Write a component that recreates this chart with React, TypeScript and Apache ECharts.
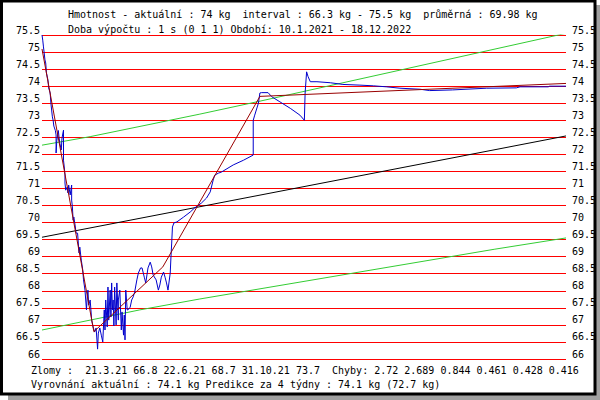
import React, { useEffect, useRef } from "react";
import * as echarts from "echarts";

// Days counted from 10.1.2021 (day 0) to 18.12.2022 (day 707)
const totalDays = 707;

// Measured weight (blue)
const blueDays = [
  0, 1, 2, 4, 5, 6, 8, 9, 11, 12, 13, 14, 15, 16, 18, 19, 19, 20, 22, 23, 24, 26, 27, 29, 29, 30, 31, 31, 32, 34,
  35, 36, 38, 40, 40, 41, 42, 43, 45, 46, 48, 49, 50, 51, 53, 55, 56, 58, 59, 60, 61, 62, 63, 65, 67, 69, 71, 73,
  75, 76, 78, 80, 82, 84, 85, 86, 88, 89, 90, 92, 93, 94, 95, 96, 97, 98, 100, 101, 103, 103, 105, 107, 108, 110,
  111, 112, 113, 115, 116, 119, 121, 123, 125, 128, 130, 133, 135, 138, 140, 143, 146, 148, 150, 154, 157, 159,
  161, 164, 166, 168, 170, 173, 174, 175, 176, 178, 182, 191, 200, 206, 215, 222, 227, 231, 233, 238, 242, 258,
  272, 285, 285, 287, 290, 292, 294, 296, 305, 310, 321, 335, 348, 354, 355, 357, 359, 362, 371, 389, 406, 429,
  447, 465, 483, 510, 523, 554, 600, 640, 645, 683, 685, 707,
];
const blueKg = [
  75.5, 75.35, 75.15, 74.77, 74.68, 74.39, 74.18, 73.95, 73.8, 73.5, 73.3, 73.1, 73.0, 72.83, 72.7, 72.57, 72.04,
  72.4, 72.7, 72.5, 72.33, 72.13, 72.48, 72.71, 71.83, 71.63, 71.4, 71.16, 70.95, 71.04, 70.87, 71.1, 70.81, 71.1,
  70.66, 70.46, 70.07, 70.16, 69.87, 69.69, 69.69, 69.4, 69.11, 69.28, 68.9, 68.61, 68.32, 68.02, 67.73, 67.44,
  67.82, 68.02, 67.58, 67.73, 67.14, 66.94, 66.79, 66.91, 66.29, 66.76, 66.91, 66.7, 66.5, 67.44, 66.85, 67.73,
  66.94, 68.11, 67.14, 68.02, 67.23, 68.23, 67.44, 67.73, 66.97, 68.11, 67.0, 68.23, 67.14, 67.73, 68.02, 66.85,
  67.38, 66.7, 67.29, 66.56, 68.02, 67.44, 67.44, 67.52, 67.73, 67.82, 67.96, 68.32, 68.52, 68.67, 68.67, 68.4,
  68.23, 68.67, 68.84, 68.7, 68.46, 68.32, 68.02, 68.17, 68.4, 68.55, 68.4, 68.23, 68.02, 68.52, 68.99, 69.4,
  69.87, 69.99, 70.02, 70.16, 70.31, 70.43, 70.57, 70.72, 70.9, 71.25, 71.39, 71.45, 71.48, 71.69, 71.83, 71.98,
  73.0, 73.15, 73.36, 73.5, 73.8, 73.81, 73.81, 73.69, 73.54, 73.35, 73.15, 73.0, 73.8, 74.42, 74.28, 74.13,
  74.13, 74.1, 74.05, 74.03, 74.01, 73.98, 73.94, 73.91, 73.87, 73.89, 73.94, 73.95, 73.98, 73.98, 74.0, 74.0,
];

// Piecewise fit (dark red): breaks 21.3.21, 22.6.21, 31.10.21
const fitDays = [0, 70, 163, 294, 707];
const fitKg = [75.09, 66.8, 68.7, 73.7, 74.08];

// Linear trend (black)
const trendDays = [0, 707];
const trendKg = [69.57, 72.54];

// Band (green)
const upperDays = [0, 65, 213, 294, 483, 707];
const upperKg = [72.27, 72.52, 73.18, 73.56, 74.47, 75.55];
const lowerDays = [0, 132, 213, 611, 707];
const lowerKg = [66.85, 67.44, 67.76, 69.22, 69.55];

// Axis
const yMin = 66;
const yMax = 75.5;
const yStep = 0.5;

// Texts
const headerLines = [
  "Hmotnost - aktuální : 74 kg  interval : 66.3 kg - 75.5 kg  průměrná : 69.98 kg",
  "Doba výpočtu : 1 s (0 1 1) Období: 10.1.2021 - 18.12.2022",
];
const footerLines = [
  "Zlomy :  21.3.21 66.8 22.6.21 68.7 31.10.21 73.7  Chyby: 2.72 2.689 0.844 0.461 0.428 0.416",
  "Vyrovnání aktuální : 74.1 kg Predikce za 4 týdny : 74.1 kg (72.7 kg)",
];

const FONT = '"DejaVu Sans Mono", monospace';

const zip = (a: number[], b: number[]) => a.map((d, i) => [d, b[i]]);

export default function App() {
  const ref = useRef<HTMLDivElement>(null);
  useEffect(() => {
    if (!ref.current) return;
    const chart = echarts.init(ref.current, undefined, { renderer: "svg" });
    const lineSeries = (name: string, data: number[][], color: string, z: number) => ({
      name,
      type: "line",
      data,
      showSymbol: false,
      symbol: "none",
      silent: true,
      z,
      lineStyle: { color, width: 1 },
    });
    const textEl = (text: string, x: number, y: number) => ({
      type: "text",
      x,
      y,
      z: 100,
      style: {
        text,
        font: `10px ${FONT}`,
        fill: "#000",
        verticalAlign: "middle",
        align: "left",
      },
    });
    chart.setOption({
      animation: false,
      backgroundColor: "#ffffff",
      grid: { left: 42, right: 34, top: 35, bottom: 41 },
      xAxis: { type: "value", min: 0, max: totalDays, show: false },
      yAxis: [
        {
          type: "value",
          min: yMin,
          max: yMax,
          interval: yStep,
          position: "left",
          axisLine: { show: false },
          axisTick: { show: false },
          splitLine: { show: true, lineStyle: { color: "#ff0000", width: 1 } },
          axisLabel: {
            margin: 2,
            verticalAlign: "bottom",
            fontFamily: FONT,
            fontSize: 10,
            color: "#000",
          },
        },
        {
          type: "value",
          min: yMin,
          max: yMax,
          interval: yStep,
          position: "right",
          axisLine: { show: false },
          axisTick: { show: false },
          splitLine: { show: false },
          axisLabel: {
            margin: 6,
            verticalAlign: "bottom",
            fontFamily: FONT,
            fontSize: 10,
            color: "#000",
          },
        },
      ],
      series: [
        lineSeries("upper", zip(upperDays, upperKg), "#33cc33", 2),
        lineSeries("lower", zip(lowerDays, lowerKg), "#33cc33", 2),
        lineSeries("trend", zip(trendDays, trendKg), "#000000", 2),
        lineSeries("weight", zip(blueDays, blueKg), "#0000cc", 3),
        lineSeries("fit", zip(fitDays, fitKg), "#990000", 4),
      ],
      graphic: [
        { type: "rect", z: -10, shape: { x: 8, y: 5, width: 592, height: 395 }, style: { fill: "#a0a0a0" } },
        { type: "rect", z: -9, shape: { x: 0, y: 0, width: 595, height: 394 }, style: { fill: "#ffffff" } },
        {
          type: "rect",
          z: 100,
          shape: { x: 1.5, y: 1, width: 593.5, height: 393 },
          style: { fill: "none", stroke: "#000", lineWidth: 3 },
        },
        textEl(headerLines[0], 68, 14.5),
        textEl(headerLines[1], 68, 29),
        textEl(footerLines[0], 31, 370),
        textEl(footerLines[1], 31, 384),
      ],
    });
    return () => chart.dispose();
  }, []);
  return (
    <div
      ref={ref}
      style={{ position: "fixed", left: 0, top: 0, width: 600, height: 400 }}
    />
  );
}
